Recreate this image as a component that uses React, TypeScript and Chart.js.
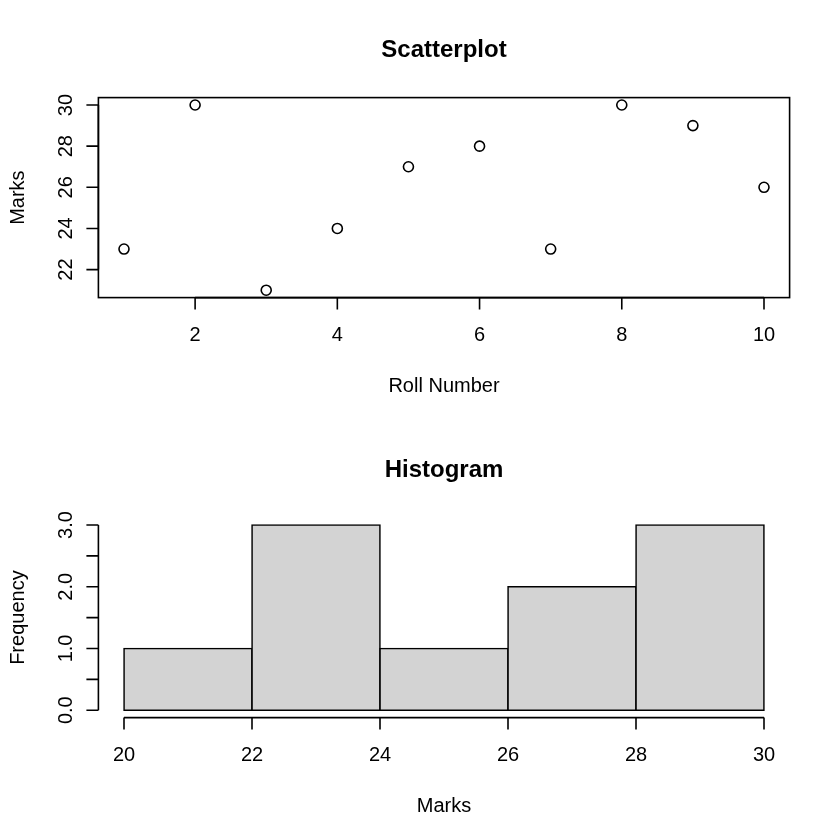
import { useEffect, useRef } from "react";
import { Chart, registerables } from "chart.js";

Chart.register(...registerables);

// ---- data ----
const rollNumbers = [1, 2, 3, 4, 5, 6, 7, 8, 9, 10];
const marks = [23, 30, 21, 24, 27, 28, 23, 30, 29, 26];

const histBreaks = [20, 22, 24, 26, 28, 30];
const histCounts = [1, 3, 1, 2, 3];

const scatterXTicks = [2, 4, 6, 8, 10];
const scatterYTicks = [22, 24, 26, 28, 30];
const histXTicks = [20, 22, 24, 26, 28, 30];
const histYTicks = [0, 0.5, 1, 1.5, 2, 2.5, 3];
const histYTickLabels = ["0.0", "", "1.0", "", "2.0", "", "3.0"];

const FONT = '"Liberation Sans", Arial, Helvetica, sans-serif';
const LW = 1.6;
const PAD = { left: 98.4, top: 97.6, right: 50.4, bottom: 122.4 };

type AxisCfg = {
  title: string;
  xLabel: string;
  yLabel: string;
  xTicks: number[];
  xTickLabels: string[];
  yTicks: number[];
  yTickLabels: string[];
  box: boolean;
};

function makeAxisPlugin(cfg: AxisCfg) {
  return {
    id: "rAxes",
    afterDraw(chart: any) {
      const ctx = chart.ctx as CanvasRenderingContext2D;
      const area = chart.chartArea;
      const xs = chart.scales.x;
      const ys = chart.scales.y;
      ctx.save();
      ctx.strokeStyle = "#000";
      ctx.fillStyle = "#000";
      ctx.lineWidth = LW;
      ctx.lineCap = "butt";
      if (cfg.box) {
        ctx.strokeRect(area.left, area.top, area.right - area.left, area.bottom - area.top);
      }
      // x axis
      const xb = area.bottom;
      const x0 = xs.getPixelForValue(cfg.xTicks[0]);
      const x1 = xs.getPixelForValue(cfg.xTicks[cfg.xTicks.length - 1]);
      ctx.beginPath();
      ctx.moveTo(x0, xb);
      ctx.lineTo(x1, xb);
      cfg.xTicks.forEach((v) => {
        const px = xs.getPixelForValue(v);
        ctx.moveTo(px, xb);
        ctx.lineTo(px, xb + 12);
      });
      ctx.stroke();
      // y axis
      const yl = area.left;
      const y0 = ys.getPixelForValue(cfg.yTicks[0]);
      const y1 = ys.getPixelForValue(cfg.yTicks[cfg.yTicks.length - 1]);
      ctx.beginPath();
      ctx.moveTo(yl, y0);
      ctx.lineTo(yl, y1);
      cfg.yTicks.forEach((v) => {
        const py = ys.getPixelForValue(v);
        ctx.moveTo(yl, py);
        ctx.lineTo(yl - 12, py);
      });
      ctx.stroke();

      // tick labels
      ctx.font = `20px ${FONT}`;
      ctx.textAlign = "center";
      ctx.textBaseline = "alphabetic";
      cfg.xTicks.forEach((v, i) => {
        const t = cfg.xTickLabels[i];
        if (t) ctx.fillText(t, xs.getPixelForValue(v), xb + 43.4);
      });
      cfg.yTicks.forEach((v, i) => {
        const t = cfg.yTickLabels[i];
        if (!t) return;
        ctx.save();
        ctx.translate(yl - 26.7, ys.getPixelForValue(v));
        ctx.rotate(-Math.PI / 2);
        ctx.fillText(t, 0, 0);
        ctx.restore();
      });
      const cx = (area.left + area.right) / 2;
      const cy = (area.top + area.bottom) / 2;
      // axis titles
      ctx.fillText(cfg.xLabel, cx, xb + 94);
      ctx.save();
      ctx.translate(yl - 74, cy);
      ctx.rotate(-Math.PI / 2);
      ctx.fillText(cfg.yLabel, 0, 0);
      ctx.restore();
      // main title
      ctx.font = `bold 24px ${FONT}`;
      ctx.fillText(cfg.title, cx, 57);
      ctx.restore();
    },
  };
}

function baseOptions(xmin: number, xmax: number, ymin: number, ymax: number) {
  return {
    responsive: false,
    devicePixelRatio: 1,
    animation: false as const,
    layout: { padding: PAD },
    plugins: { legend: { display: false }, tooltip: { enabled: false }, title: { display: false } },
    scales: {
      x: { type: "linear" as const, min: xmin, max: xmax, display: false, offset: false, grid: { offset: false } },
      y: { type: "linear" as const, min: ymin, max: ymax, display: false, offset: false },
    },
  };
}

function Scatter() {
  const ref = useRef<HTMLCanvasElement>(null);
  useEffect(() => {
    const chart = new Chart(ref.current!, {
      type: "scatter",
      data: {
        datasets: [
          {
            data: rollNumbers.map((x, i) => ({ x, y: marks[i] })),
            pointStyle: "circle",
            pointRadius: 5,
            pointBorderWidth: LW,
            pointBorderColor: "#000",
            pointBackgroundColor: "rgba(0,0,0,0)",
          },
        ],
      },
      options: baseOptions(0.64, 10.36, 20.64, 30.36) as any,
      plugins: [
        makeAxisPlugin({
          title: "Scatterplot",
          xLabel: "Roll Number",
          yLabel: "Marks",
          xTicks: scatterXTicks,
          xTickLabels: scatterXTicks.map(String),
          yTicks: scatterYTicks,
          yTickLabels: scatterYTicks.map(String),
          box: true,
        }),
      ],
    });
    return () => chart.destroy();
  }, []);
  return <canvas ref={ref} width={840} height={420} style={{ display: "block", width: 840, height: 420 }} />;
}

function Histogram() {
  const ref = useRef<HTMLCanvasElement>(null);
  useEffect(() => {
    const mids = histCounts.map((_, i) => (histBreaks[i] + histBreaks[i + 1]) / 2);
    const chart = new Chart(ref.current!, {
      type: "bar",
      data: {
        datasets: [
          {
            data: mids.map((x, i) => ({ x, y: histCounts[i] })),
            backgroundColor: "#D3D3D3",
            borderColor: "#000",
            borderWidth: LW,
            borderSkipped: false,
            inflateAmount: LW / 2,
            barPercentage: 1,
            categoryPercentage: 1,
          },
        ],
      },
      options: baseOptions(19.6, 30.4, -0.12, 3.12) as any,
      plugins: [
        makeAxisPlugin({
          title: "Histogram",
          xLabel: "Marks",
          yLabel: "Frequency",
          xTicks: histXTicks,
          xTickLabels: histXTicks.map(String),
          yTicks: histYTicks,
          yTickLabels: histYTickLabels,
          box: false,
        }),
      ],
    });
    return () => chart.destroy();
  }, []);
  return <canvas ref={ref} width={840} height={420} style={{ display: "block", width: 840, height: 420 }} />;
}

export default function App() {
  return (
    <div style={{ position: "absolute", left: 0, top: 0, width: 840, height: 840, background: "#fff" }}>
      <Scatter />
      <Histogram />
    </div>
  );
}
